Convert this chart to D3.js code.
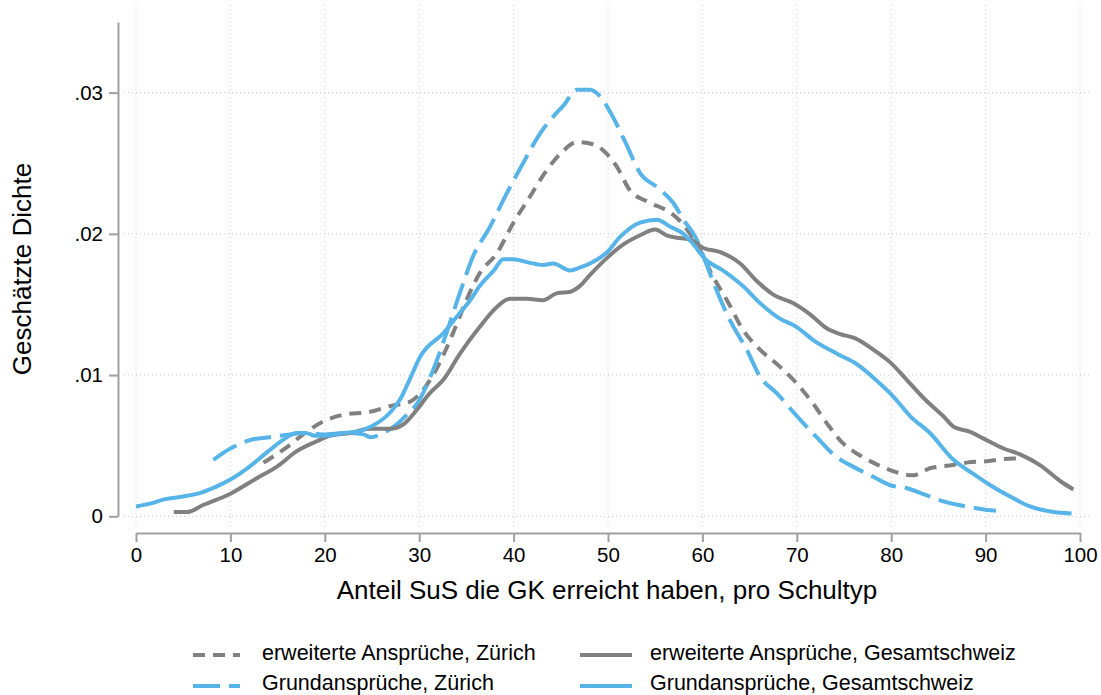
<!DOCTYPE html>
<html>
<head>
<meta charset="utf-8">
<script src="https://cdn.jsdelivr.net/npm/d3@7"></script>
<style>
  body { margin: 0; background: #fff; }
  svg { font-family: "Liberation Sans", Arial, sans-serif; }
</style>
</head>
<body>
<svg id="chart" width="1101" height="695"></svg>
<script>
// estimated densities, [x, density]
var ezZuerich = [[13.5,0.0038],[16,0.0049],[18.1,0.0060],[19.8,0.0067],[22,0.0072],[24.8,0.0074],[26.9,0.0078],[29,0.0081],[30.1,0.0087],[31.8,0.0104],[33.6,0.0130],[35,0.0153],[36.4,0.0172],[38.2,0.0186],[40,0.0208],[41.7,0.0226],[43.5,0.0245],[45.3,0.0259],[46.7,0.0265],[48.1,0.0264],[49.5,0.0259],[50.9,0.0248],[52.3,0.0231],[54.1,0.0223],[56.6,0.0215],[57.5,0.0210],[58.7,0.0200],[59.7,0.0189],[61.1,0.0170],[62.6,0.0153],[64.3,0.0132],[66.1,0.0118],[68.2,0.0106],[70,0.0094],[71.7,0.0080],[73.5,0.0063],[75,0.0051],[76,0.0046],[78.1,0.0038],[80.2,0.0032],[82.3,0.0029],[84.1,0.0034],[86.2,0.0036],[88,0.0038],[90.1,0.0039],[92.9,0.0041],[93.3,0.0041]];
var gkZuerich = [[8.2,0.0040],[10,0.0048],[12.1,0.0054],[14.2,0.0056],[16.3,0.0058],[18.1,0.0059],[19.8,0.0058],[22.3,0.0059],[24.1,0.0058],[24.8,0.0056],[26.2,0.0059],[27.6,0.0065],[28.7,0.0072],[29.7,0.0079],[31.5,0.0104],[32.9,0.0130],[34.3,0.0158],[35.7,0.0184],[37.5,0.0205],[39.3,0.0229],[41,0.0250],[42.8,0.0271],[44.2,0.0283],[45.3,0.0291],[46.7,0.0302],[48.1,0.0302],[49.2,0.0297],[50.5,0.0283],[51.9,0.0264],[53.4,0.0243],[55.2,0.0233],[56.9,0.0222],[58,0.0210],[59.4,0.0196],[60.4,0.0179],[61.5,0.0160],[62.9,0.0139],[64.7,0.0118],[66.1,0.0099],[67.9,0.0087],[70,0.0071],[72.1,0.0056],[74.2,0.0042],[76,0.0035],[78.1,0.0028],[79.9,0.0022],[81.6,0.0020],[83.7,0.0015],[85.8,0.0010],[88,0.0007],[90.1,0.00045],[91.1,0.0004]];
var ezSchweiz = [[4,0.0003],[5.4,0.0003],[7.1,0.0008],[10,0.0016],[12.8,0.0027],[14.9,0.0035],[17,0.0046],[19.1,0.0053],[20.5,0.0057],[22.7,0.0059],[24.8,0.0062],[26.9,0.0062],[28.3,0.0065],[29.7,0.0075],[31.1,0.0087],[32.6,0.0097],[34.3,0.0115],[36.4,0.0134],[38.2,0.0148],[39.6,0.0154],[41.4,0.0154],[43.1,0.0153],[44.6,0.0158],[46,0.0159],[47,0.0163],[48.1,0.0171],[49.9,0.0183],[51.3,0.0191],[53.4,0.0199],[55,0.0203],[56.2,0.0199],[57.6,0.0197],[58.7,0.0196],[60.1,0.0190],[61.9,0.0187],[64,0.0179],[65.7,0.0167],[67.5,0.0157],[69.6,0.0151],[71.4,0.0143],[73.2,0.0133],[74.6,0.0129],[76.2,0.0126],[78.1,0.0118],[79.9,0.0109],[81.6,0.0097],[83.7,0.0082],[85.5,0.0071],[86.7,0.0063],[88.3,0.0060],[89.8,0.0055],[91.9,0.0048],[93.6,0.0044],[95.8,0.0036],[97.9,0.0025],[99.3,0.0019]];
var gkSchweiz = [[0,0.0007],[1.5,0.0009],[3,0.0012],[5,0.0014],[7,0.0017],[8.5,0.0021],[10,0.0026],[12,0.0035],[14,0.0046],[16,0.0056],[17,0.0059],[18,0.0059],[19,0.0057],[20,0.0057],[22,0.0059],[23.5,0.0060],[25,0.0064],[26,0.0068],[27,0.0074],[28,0.0083],[29,0.0097],[30.1,0.0113],[32.6,0.0130],[34.3,0.0144],[35.4,0.0153],[36.4,0.0163],[37.9,0.0174],[38.9,0.0182],[40,0.0182],[41.4,0.0180],[43.1,0.0178],[44.2,0.0179],[46,0.0174],[47,0.0176],[48.4,0.0180],[49.9,0.0187],[51.3,0.0198],[53.4,0.0208],[55.2,0.0210],[56.6,0.0205],[58,0.0200],[59,0.0193],[60.3,0.0182],[62.2,0.0174],[64.3,0.0163],[66.1,0.0151],[68.2,0.0140],[70,0.0134],[71.7,0.0125],[74.3,0.0115],[76.3,0.0108],[78.8,0.0094],[80.2,0.0085],[82,0.0071],[84.1,0.0059],[86.6,0.0040],[88.7,0.0030],[90.5,0.0022],[92.6,0.0014],[94.7,0.0007],[97.2,0.0003],[99.1,0.0002]];

var xTicks = [0, 10, 20, 30, 40, 50, 60, 70, 80, 90, 100];
var yTicks = [0, 0.01, 0.02, 0.03];
var seriesNames = ["erweiterte Ansprüche, Zürich", "Grundansprüche, Zürich", "erweiterte Ansprüche, Gesamtschweiz", "Grundansprüche, Gesamtschweiz"];

var grey = "#808080", blue = "#56b4e9";
var series = [
    { name: seriesNames[0], values: ezZuerich, color: grey, dash: "12,8" },
    { name: seriesNames[1], values: gkZuerich, color: blue, dash: "27,9" },
    { name: seriesNames[2], values: ezSchweiz, color: grey, dash: null },
    { name: seriesNames[3], values: gkSchweiz, color: blue, dash: null }
];

var svg = d3.select("#chart");
var x = d3.scaleLinear().domain([0, 100]).range([136, 1080]);
var y = d3.scaleLinear().domain([0, 0.035]).range([516.3, 22]);

// dotted grid
var grid = svg.append("g").attr("stroke", "#c8c8c8").attr("stroke-width", 1).attr("stroke-dasharray", "1,3");
grid.selectAll(".vg").data(xTicks).enter().append("line")
    .attr("x1", function(d) { return x(d); }).attr("x2", function(d) { return x(d); })
    .attr("y1", 5).attr("y2", 527);
grid.selectAll(".hg").data(yTicks).enter().append("line")
    .attr("y1", function(d) { return y(d); }).attr("y2", function(d) { return y(d); })
    .attr("x1", 124).attr("x2", 1092);

// axes
var fmt = function(d) { return d === 0 ? "0" : d3.format(".2f")(d).replace(/^0/, ""); };
var yAxis = svg.append("g").attr("transform", "translate(118,0)")
    .call(d3.axisLeft(y).tickValues(yTicks).tickFormat(fmt).tickSize(9).tickPadding(6).tickSizeOuter(0));
var xAxis = svg.append("g").attr("transform", "translate(0,533)")
    .call(d3.axisBottom(x).tickValues(xTicks).tickSize(9).tickPadding(5).tickSizeOuter(0));
[xAxis, yAxis].forEach(function(a) {
    a.select(".domain").attr("stroke", "#a0a0a0").attr("stroke-width", 2);
    a.selectAll(".tick line").attr("stroke", "#a0a0a0").attr("stroke-width", 2);
    a.selectAll(".tick text").attr("fill", "#000").style("font-size", "20.5px");
});

// curves
var line = d3.line()
    .x(function(d) { return x(d[0]); })
    .y(function(d) { return y(d[1]); })
    .curve(d3.curveMonotoneX);

svg.append("g").selectAll("path").data(series).enter().append("path")
    .attr("d", function(d) { return line(d.values); })
    .attr("fill", "none")
    .attr("stroke", function(d) { return d.color; })
    .attr("stroke-width", 4)
    .attr("stroke-dasharray", function(d) { return d.dash; });

// titles
svg.append("text").attr("x", 607).attr("y", 599).attr("text-anchor", "middle")
    .style("font-size", "26px").text("Anteil SuS die GK erreicht haben, pro Schultyp");
svg.append("text").attr("transform", "translate(31,269) rotate(-90)").attr("text-anchor", "middle")
    .style("font-size", "26px").text("Geschätzte Dichte");

// legend, two columns; bottom row text nudged up so descenders stay inside
var legendPos = [[193, 655], [193, 686], [580, 655], [580, 686]];
var legend = svg.append("g").selectAll("g").data(series).enter().append("g")
    .attr("transform", function(d, i) { return "translate(" + legendPos[i][0] + "," + legendPos[i][1] + ")"; });
legend.append("line").attr("x1", 0).attr("x2", function(d, i) { return i < 2 ? 47 : 52; })
    .attr("y1", 0).attr("y2", 0)
    .attr("stroke", function(d) { return d.color; }).attr("stroke-width", 4)
    .attr("stroke-dasharray", function(d) { return d.dash; });
legend.append("text").attr("x", function(d, i) { return i < 2 ? 69 : 70; })
    .attr("y", function(d, i) { return i % 2 ? 4 : 5; })
    .style("font-size", "21.5px").text(function(d) { return d.name; });
</script>
</body>
</html>
